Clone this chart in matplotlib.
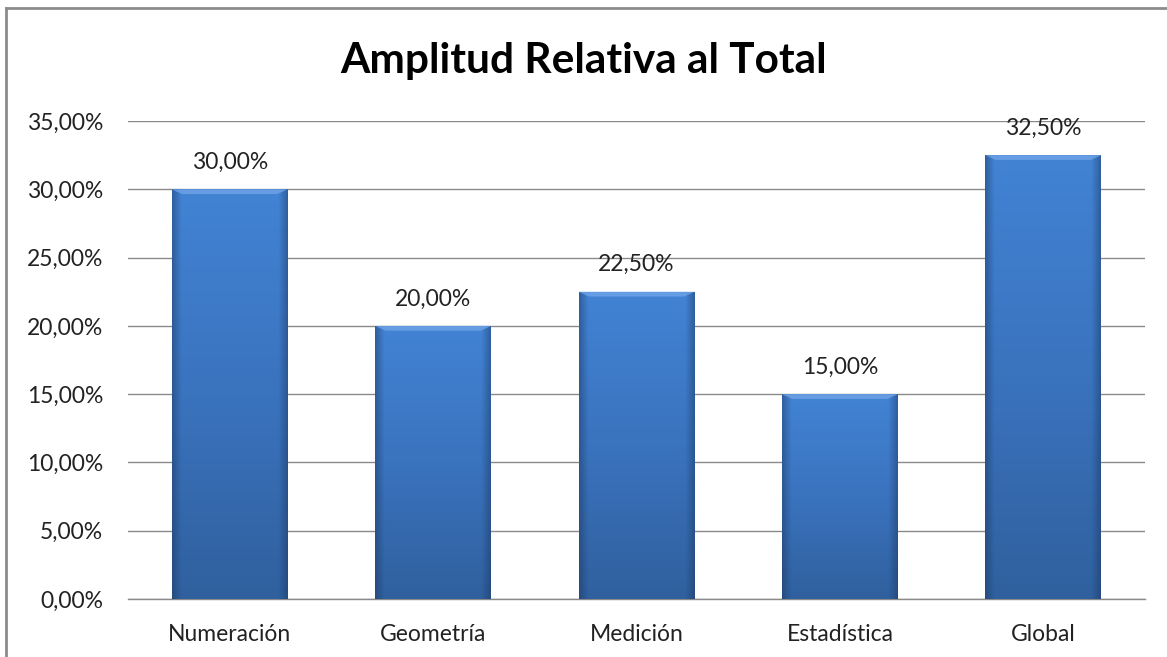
import numpy as np
import matplotlib
matplotlib.use("Agg")
import matplotlib.pyplot as plt
from matplotlib.colors import LinearSegmentedColormap
from matplotlib.lines import Line2D

categories = ["Numeración", "Geometría", "Medición", "Estadística", "Global"]
values = [30.0, 20.0, 22.5, 15.0, 32.5]
yticks = [0, 5, 10, 15, 20, 25, 30, 35]


def pct(v):
    return "{:.2f}%".format(v).replace(".", ",")


plt.rcParams['font.family'] = ['Lato', 'DejaVu Sans']
FS = 16.5

fig = plt.figure(figsize=(11.67, 6.57), dpi=100)
ax = fig.add_axes([128 / 1167, 1 - 599 / 657, (1145 - 128) / 1167, (599 - 121) / 657])

x = np.arange(len(categories))
bars = ax.bar(x, values, width=0.57, color='#3d78c6', zorder=2)

# vertical gradient, lighter at top, darker at bottom
vcmap = LinearSegmentedColormap.from_list('v', ['#30609e', '#3a73be', '#4283d4'])
grad = np.linspace(0, 1, 256).reshape(-1, 1)
# horizontal shading at the edges
hcmap = LinearSegmentedColormap.from_list(
    'h', [(0, (0.1, 0.2, 0.35, 0.45)), (0.08, (0.1, 0.2, 0.35, 0.0)),
          (0.92, (0.1, 0.2, 0.35, 0.0)), (1, (0.1, 0.2, 0.35, 0.45))])
hgrad = np.linspace(0, 1, 256).reshape(1, -1)

for b in bars:
    x0, y0 = b.get_x(), b.get_y()
    w, h = b.get_width(), b.get_height()
    im = ax.imshow(grad, extent=[x0, x0 + w, y0, y0 + h], origin='lower',
                   cmap=vcmap, aspect='auto', zorder=3)
    im.set_clip_path(b)
    im2 = ax.imshow(hgrad, extent=[x0, x0 + w, y0, y0 + h], cmap=hcmap,
                    aspect='auto', zorder=4)
    im2.set_clip_path(b)
    # top bevel
    bev = 0.35
    ax.fill([x0, x0 + w, x0 + w - 0.05, x0 + 0.05],
            [y0 + h, y0 + h, y0 + h - bev, y0 + h - bev],
            color='#6fa3e6', alpha=0.8, lw=0, zorder=5)
    ax.text(x0 + w / 2, y0 + h + 1.2, pct(b.get_height()), ha='center',
            va='bottom', fontsize=FS, color='#222222', zorder=6)

ax.set_xlim(-0.5, len(categories) - 0.5)
ax.set_ylim(0, 35)
ax.set_yticks(yticks)
ax.set_yticklabels([pct(v) for v in yticks], fontsize=FS, color='#222222')
ax.set_xticks(x)
ax.set_xticklabels(categories, fontsize=FS, color='#222222')
ax.tick_params(axis='both', length=0)
ax.tick_params(axis='y', pad=18)
ax.tick_params(axis='x', pad=18)
ax.yaxis.grid(True, color='#8a8a8a', linewidth=1)
ax.set_axisbelow(True)
for s in ['top', 'right', 'left']:
    ax.spines[s].set_visible(False)
ax.spines['bottom'].set_color('#8a8a8a')
ax.spines['bottom'].set_linewidth(1)

fig.text(0.5, 1 - 61 / 657, "Amplitud Relativa al Total", ha='center',
         va='center', fontsize=30.5, fontweight='bold', color='black')

# outer chart frame
fig.add_artist(Line2D([6 / 1167, 6 / 1167], [0, 1 - 8 / 657], color='#8c8c8c', lw=2))
fig.add_artist(Line2D([6 / 1167, 1], [1 - 8 / 657, 1 - 8 / 657], color='#8c8c8c', lw=2))

fig.savefig("out.png", dpi=100)
